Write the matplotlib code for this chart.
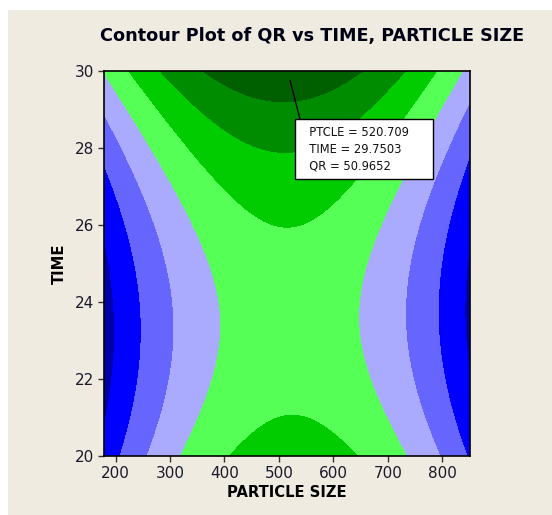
import matplotlib.pyplot as plt
import numpy as np
from matplotlib.patches import Rectangle

# Fitted quadratic response surface for QR
# QR = QR_CENTER - CURV_SIZE*(size - SIZE_CENTER + TILT*(time - TIME_CENTER))^2
#      + CURV_TIME*(time - TIME_CENTER)^2
QR_CENTER = 37.75
SIZE_CENTER = 520.0
TIME_CENTER = 23.5
CURV_SIZE = 1.71e-4
CURV_TIME = 0.377
TILT = 2.0

size_range = [178.8, 851.2]
time_range = [20.0, 30.0]

contour_levels = [20, 25, 30, 35, 40, 45, 50]
band_colors = ['#0000A8', '#0000FF', '#6666FF', '#AAAAFF',
               '#55FF55', '#00CC00', '#008C00', '#006000']

x_ticks = [200, 300, 400, 500, 600, 700, 800]
y_ticks = [20, 22, 24, 26, 28, 30]

# crosshair readout
pt_size = 520.709
pt_time = 29.7503
pt_qr = 50.9652

BG = '#EFEBE1'

fig = plt.figure(figsize=(5.52, 5.15), dpi=100, facecolor='white')
# beige panel, white strip on top and left like the original screenshot
fig.patches.append(Rectangle((8 / 552, 0), 1, (515 - 10) / 515,
                             transform=fig.transFigure, facecolor=BG,
                             edgecolor='none', zorder=-10))

ax = fig.add_axes([104 / 552, (515 - 456) / 515, 366 / 552, 385 / 515])

xs = np.linspace(size_range[0], size_range[1], 400)
ts = np.linspace(time_range[0], time_range[1], 400)
X, T = np.meshgrid(xs, ts)
QR = (QR_CENTER
      - CURV_SIZE * (X - SIZE_CENTER + TILT * (T - TIME_CENTER)) ** 2
      + CURV_TIME * (T - TIME_CENTER) ** 2)

levels = [QR.min() - 1] + contour_levels + [QR.max() + 1]
ax.contourf(X, T, QR, levels=levels, colors=band_colors, antialiased=False)

ax.set_xlim(size_range)
ax.set_ylim(time_range)
ax.set_xticks(x_ticks)
ax.set_yticks(y_ticks)
ax.tick_params(direction='out', length=4, width=1, color='#333333',
               labelsize=11, labelcolor='#1a1a2a', pad=3)
for sp in ax.spines.values():
    sp.set_linewidth(1.2)
    sp.set_color('black')

ax.set_xlabel('PARTICLE SIZE', fontsize=10.6, fontweight='bold', labelpad=3)
ax.set_ylabel('TIME', fontsize=10.6, fontweight='bold', labelpad=6)
fig.text(312 / 552, 1 - 36 / 515, 'Contour Plot of QR vs TIME, PARTICLE SIZE',
         ha='center', va='center', fontsize=12.7, fontweight='bold',
         color='#000014')

label = (f'  PTCLE = {pt_size}     \n'
         f'  TIME = {pt_time}\n'
         f'  QR = {pt_qr}')
ax.annotate(label, xy=(pt_size, pt_time), xytext=(542, 28.58),
            textcoords='data', ha='left', va='top', fontsize=8.3,
            linespacing=1.4, color='#111111',
            bbox=dict(boxstyle='square,pad=0.55', fc='white', ec='black', lw=1),
            arrowprops=dict(arrowstyle='-', color='black', lw=1,
                            relpos=(0, 1), shrinkA=0, shrinkB=0))

fig.savefig('out.png', dpi=100, facecolor=fig.get_facecolor())
